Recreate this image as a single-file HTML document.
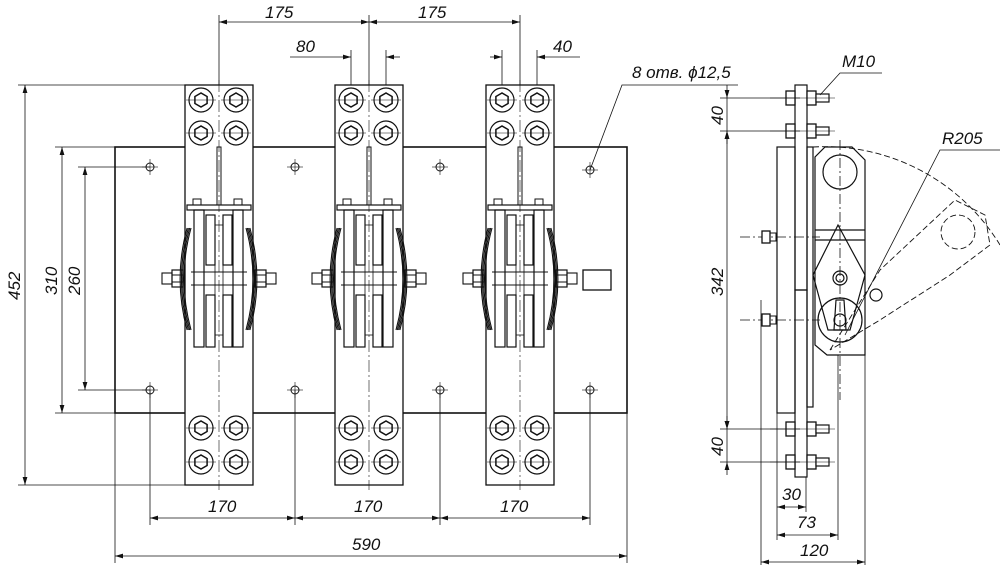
<!DOCTYPE html>
<html><head><meta charset="utf-8"><style>
html,body{margin:0;padding:0;background:#fff;width:1000px;height:568px;overflow:hidden}
svg text{font-family:"Liberation Sans",sans-serif;font-style:italic;font-size:17px;fill:#111;stroke:none}
</style></head><body>
<svg id="s" width="1000" height="568" viewBox="0 0 1000 568" xmlns="http://www.w3.org/2000/svg" stroke="#111" fill="none" stroke-width="1">
<defs>
<marker id="a" viewBox="0 0 10 6" refX="10" refY="3" markerWidth="10" markerHeight="6" orient="auto-start-reverse"><path d="M0,0L10,3L0,6z" fill="#111" stroke="none"/></marker>
</defs>
<rect x="115" y="147" width="512" height="266" stroke-width="1.6"/>
<rect x="583" y="270" width="28" height="20" stroke-width="1.3"/>
<g id="g"></g>
<g stroke-width="0.8">
<line x1="18" y1="85" x2="185" y2="85"/><line x1="18" y1="485" x2="185" y2="485"/>
<line x1="25" y1="85" x2="25" y2="485" marker-start="url(#a)" marker-end="url(#a)"/>
<line x1="55" y1="147" x2="115" y2="147"/><line x1="55" y1="413" x2="115" y2="413"/>
<line x1="62" y1="147" x2="62" y2="413" marker-start="url(#a)" marker-end="url(#a)"/>
<line x1="78" y1="167" x2="150" y2="167"/><line x1="78" y1="390" x2="150" y2="390"/>
<line x1="85" y1="167" x2="85" y2="390" marker-start="url(#a)" marker-end="url(#a)"/>
<line x1="219" y1="15" x2="219" y2="85"/><line x1="369" y1="15" x2="369" y2="85"/><line x1="520" y1="15" x2="520" y2="85"/>
<line x1="219" y1="22" x2="369" y2="22" marker-start="url(#a)" marker-end="url(#a)"/>
<line x1="369" y1="22" x2="520" y2="22" marker-start="url(#a)" marker-end="url(#a)"/>
<line x1="351" y1="50" x2="351" y2="85"/><line x1="386" y1="50" x2="386" y2="85"/>
<line x1="290" y1="57" x2="351" y2="57" marker-end="url(#a)"/><line x1="386" y1="57" x2="400" y2="57" marker-start="url(#a)"/>
<line x1="537" y1="50" x2="537" y2="85"/><line x1="502" y1="50" x2="502" y2="85"/>
<line x1="490" y1="57" x2="502" y2="57" marker-end="url(#a)"/><line x1="537" y1="57" x2="580" y2="57" marker-start="url(#a)"/>
<line x1="150" y1="390" x2="150" y2="525"/><line x1="295" y1="390" x2="295" y2="525"/><line x1="440" y1="390" x2="440" y2="525"/><line x1="590" y1="390" x2="590" y2="525"/>
<line x1="150" y1="518" x2="295" y2="518" marker-start="url(#a)" marker-end="url(#a)"/>
<line x1="295" y1="518" x2="440" y2="518" marker-start="url(#a)" marker-end="url(#a)"/>
<line x1="440" y1="518" x2="590" y2="518" marker-start="url(#a)" marker-end="url(#a)"/>
<line x1="115" y1="413" x2="115" y2="563"/><line x1="627" y1="413" x2="627" y2="563"/>
<line x1="115" y1="556" x2="627" y2="556" marker-start="url(#a)" marker-end="url(#a)"/>
<polyline points="590,170 622,85 738,85"/>
</g>
<text x="265" y="18">175</text><text x="418" y="18">175</text>
<text x="296" y="52">80</text><text x="553" y="52">40</text>
<text x="632" y="78">8 отв. ϕ12,5</text>
<text x="208" y="512">170</text><text x="354" y="512">170</text><text x="500" y="512">170</text>
<text x="352" y="550">590</text>
<text transform="translate(20,300) rotate(-90)">452</text>
<text transform="translate(57,295) rotate(-90)">310</text>
<text transform="translate(80,295) rotate(-90)">260</text>

<g stroke-width="1.2">
<rect x="795" y="85" width="12" height="205"/>
<rect x="795" y="290" width="12" height="187"/>
<rect x="777" y="147" width="18" height="266"/>
<rect x="807" y="147" width="6" height="260"/>
<path d="M825,147 L852,147 L865,160 L865,355 L827,355 L815,345 L815,157 Z"/>
<circle cx="840" cy="172" r="17"/>
<line x1="815" y1="230" x2="865" y2="230"/><line x1="815" y1="240" x2="865" y2="240"/>
<path d="M838,225 L865,275 L850,330 L828,330 L813,275 Z"/>
<circle cx="840" cy="320" r="22"/><circle cx="840" cy="320" r="6"/>
<circle cx="840" cy="278" r="7"/><circle cx="840" cy="278" r="4"/>
<path d="M836,300 L844,300 L846,330 L834,330 Z"/>
<circle cx="876" cy="295" r="6"/>
</g>
<g stroke-width="0.8" stroke-dasharray="10,3,2,3">
<line x1="840" y1="140" x2="840" y2="400"/>
<line x1="740" y1="237" x2="820" y2="237"/><line x1="740" y1="320" x2="820" y2="320"/>
</g>
<g stroke-width="0.9" stroke-dasharray="6,3">
<path d="M813,147 A205,205 0 0 1 1000,245"/>
<path d="M830,350 L880,270 L955,200 L985,215 L990,245 L950,275 L880,320 Z"/>
<circle cx="958" cy="232" r="17"/>
</g>
<g id="sb"></g>
<g stroke-width="0.8">
<line x1="720" y1="98" x2="800" y2="98"/><line x1="720" y1="131" x2="800" y2="131"/>
<line x1="720" y1="429" x2="800" y2="429"/><line x1="720" y1="462" x2="800" y2="462"/>
<line x1="727" y1="85" x2="727" y2="98" marker-end="url(#a)"/><line x1="727" y1="98" x2="727" y2="131"/><line x1="727" y1="131" x2="727" y2="144" marker-start="url(#a)"/>
<line x1="727" y1="131" x2="727" y2="429" marker-start="url(#a)" marker-end="url(#a)"/>
<line x1="727" y1="416" x2="727" y2="429" marker-end="url(#a)"/><line x1="727" y1="429" x2="727" y2="462"/><line x1="727" y1="462" x2="727" y2="475" marker-start="url(#a)"/>
<line x1="761" y1="300" x2="761" y2="565"/><line x1="865" y1="355" x2="865" y2="565"/>
<line x1="777" y1="413" x2="777" y2="540"/><line x1="806" y1="477" x2="806" y2="512"/><line x1="838" y1="355" x2="838" y2="540"/>
<line x1="777" y1="507" x2="806" y2="507" marker-start="url(#a)" marker-end="url(#a)"/>
<line x1="777" y1="535" x2="838" y2="535" marker-start="url(#a)" marker-end="url(#a)"/>
<line x1="761" y1="562" x2="865" y2="562" marker-start="url(#a)" marker-end="url(#a)"/>
<polyline points="820,95 840,73 882,73"/>
<polyline points="845,335 940,150 1000,150"/>
</g>
<text x="782" y="500">30</text><text x="797" y="528">73</text><text x="800" y="556">120</text>
<text x="842" y="67">M10</text><text x="942" y="144">R205</text>
<text transform="translate(723,125) rotate(-90)">40</text>
<text transform="translate(723,296) rotate(-90)">342</text>
<text transform="translate(723,456) rotate(-90)">40</text>
</svg>
<script>
var NS="http://www.w3.org/2000/svg",g=document.getElementById("g"),sb=document.getElementById("sb");
function el(p,t,a){var e=document.createElementNS(NS,t);for(var k in a)e.setAttribute(k,a[k]);p.appendChild(e);return e;}
function hex(cx,cy,r){var s="";for(var i=0;i<6;i++){var an=Math.PI/6+i*Math.PI/3;s+=(cx+r*Math.cos(an)).toFixed(1)+","+(cy+r*Math.sin(an)).toFixed(1)+" ";}return s;}
[[150,167],[295,167],[440,167],[590,170],[150,390],[295,390],[440,390],[590,390]].forEach(function(p){
 el(g,"circle",{cx:p[0],cy:p[1],r:4});el(g,"line",{x1:p[0]-8,y1:p[1],x2:p[0]+8,y2:p[1],"stroke-width":.6});el(g,"line",{x1:p[0],y1:p[1]-8,x2:p[0],y2:p[1]+8,"stroke-width":.6});});
[219,369,520].forEach(function(c){
 el(g,"rect",{x:c-34,y:85,width:68,height:400,fill:"#fff","stroke-width":1.3});
 el(g,"line",{x1:c,y1:80,x2:c,y2:490,"stroke-width":.6,"stroke-dasharray":"12,3,2,3"});
 [100,133,428,462].forEach(function(y){[c-18,c+17].forEach(function(x){
  el(g,"circle",{cx:x,cy:y,r:12,"stroke-width":1.2});el(g,"polygon",{points:hex(x,y,7),"stroke-width":1.5});
  el(g,"line",{x1:x-15,y1:y,x2:x+15,y2:y,"stroke-width":.5});});});
 el(g,"rect",{x:c-2,y:147,width:4,height:58,"stroke-width":1});
 el(g,"rect",{x:c-32,y:205,width:64,height:5,"stroke-width":1.2});
 el(g,"rect",{x:c-26,y:199,width:8,height:6});el(g,"rect",{x:c+15,y:199,width:8,height:6});
 el(g,"rect",{x:c-25,y:210,width:10,height:137,"stroke-width":1.2});el(g,"rect",{x:c+14,y:210,width:10,height:137,"stroke-width":1.2});
 el(g,"rect",{x:c-13,y:215,width:9,height:50,"stroke-width":1.2});el(g,"rect",{x:c+4,y:215,width:9,height:50,"stroke-width":1.2});
 el(g,"rect",{x:c-13,y:295,width:9,height:52,"stroke-width":1.2});el(g,"rect",{x:c+4,y:295,width:9,height:52,"stroke-width":1.2});
 el(g,"rect",{x:c-4,y:225,width:8,height:110,"stroke-width":.8});
 el(g,"line",{x1:c-28,y1:272,x2:c+28,y2:272});el(g,"line",{x1:c-28,y1:285,x2:c+28,y2:285});
 for(var k=0;k<4;k++){el(g,"path",{d:"M"+(c-28-k*1.3)+",228 Q"+(c-42-k*1.3)+",279 "+(c-28-k*1.3)+",330","stroke-width":1.1});
  el(g,"path",{d:"M"+(c+27+k*1.3)+",228 Q"+(c+41+k*1.3)+",279 "+(c+27+k*1.3)+",330","stroke-width":1.1});}
 [c-47,c+36].forEach(function(x){el(g,"rect",{x:x,y:270,width:11,height:17,"stroke-width":1.2});el(g,"line",{x1:x,y1:275,x2:x+11,y2:275});el(g,"line",{x1:x,y1:282,x2:x+11,y2:282});});
 el(g,"rect",{x:c-57,y:273,width:10,height:11,"stroke-width":1.1});el(g,"rect",{x:c+47,y:273,width:10,height:11,"stroke-width":1.1});
});
[98,131,429,462].forEach(function(y){
 el(sb,"rect",{x:786,y:y-7,width:9,height:14,fill:"#fff","stroke-width":1.3});
 el(sb,"rect",{x:807,y:y-7,width:9,height:14,fill:"#fff","stroke-width":1.3});
 el(sb,"rect",{x:816,y:y-4,width:13,height:8,fill:"#fff","stroke-width":1.2});
 el(sb,"line",{x1:770,y1:y,x2:835,y2:y,"stroke-width":.6});});
[237,320].forEach(function(y){el(sb,"rect",{x:762,y:y-6,width:8,height:12,fill:"#fff","stroke-width":1.3});el(sb,"rect",{x:770,y:y-4,width:6,height:8,"stroke-width":1});});
</script>
</body></html>
